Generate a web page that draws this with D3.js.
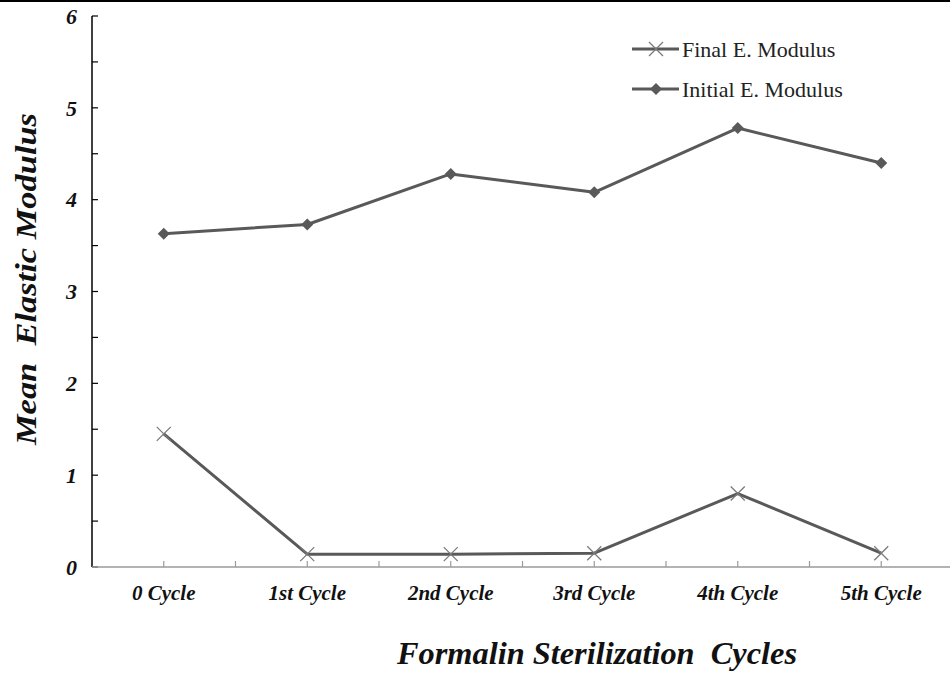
<!DOCTYPE html>
<html><head><meta charset="utf-8">
<script src="https://cdn.jsdelivr.net/npm/d3@7"></script>
<style>body{margin:0;background:#fff}svg{display:block}</style>
</head><body>
<svg id="c" width="950" height="681"></svg>
<script>
const categories = ["0 Cycle","1st Cycle","2nd Cycle","3rd Cycle","4th Cycle","5th Cycle"];
const finalModulus = [1.45, 0.14, 0.14, 0.15, 0.80, 0.15];
const initialModulus = [3.63, 3.73, 4.28, 4.08, 4.78, 4.40];
const yTicks = [0,1,2,3,4,5,6];
const seriesNames = ["Final E. Modulus","Initial E. Modulus"];

const svg = d3.select("#c");
const serif = "'Liberation Serif',serif";
const lineColor = "#595959";
const m = {l:92, r:953, t:16, b:567};

svg.append("line").attr("x1",0).attr("x2",950).attr("y1",1).attr("y2",1)
  .attr("stroke","#000").attr("stroke-width",2);

const x = d3.scaleBand().domain(categories).range([m.l, m.r]).padding(0);
const y = d3.scaleLinear().domain([0,6]).range([m.b, m.t]);
const cx = d => x(d) + x.bandwidth()/2;

// y axis
const yMinor = d3.range(0, 6.01, 0.5);
const ya = svg.append("g");
ya.append("line").attr("x1",m.l).attr("x2",m.l).attr("y1",m.t).attr("y2",m.b).attr("stroke","#000").attr("stroke-width",1.5);
ya.selectAll("line.t").data(yMinor).enter().append("line")
  .attr("x1",m.l).attr("x2",m.l+6).attr("y1",d=>y(d)).attr("y2",d=>y(d))
  .attr("stroke","#000").attr("stroke-width",1.2);
ya.selectAll("text").data(yTicks).enter().append("text")
  .attr("x",77).attr("y",d=>y(d)).attr("dy","0.35em").attr("text-anchor","end")
  .attr("font-family",serif).attr("font-weight","bold").attr("font-style","italic")
  .attr("font-size",22).attr("fill","#111").text(d=>d);

// x axis
const xa = svg.append("g");
xa.append("line").attr("x1",m.l).attr("x2",950).attr("y1",m.b).attr("y2",m.b).attr("stroke","#9a9a9a").attr("stroke-width",1.5);
const tickPos = [];
categories.forEach(c => { tickPos.push(cx(c)); tickPos.push(x(c)+x.bandwidth()); });
xa.selectAll("line.t").data(tickPos).enter().append("line")
  .attr("x1",d=>d).attr("x2",d=>d).attr("y1",m.b).attr("y2",m.b-6)
  .attr("stroke","#9a9a9a").attr("stroke-width",1.2);
xa.selectAll("text").data(categories).enter().append("text")
  .attr("x",d=>cx(d)).attr("y",600).attr("text-anchor","middle")
  .attr("font-family",serif).attr("font-weight","bold").attr("font-style","italic")
  .attr("font-size",21).attr("fill","#111").text(d=>d);

// titles
svg.append("text").attr("x",597).attr("y",664).attr("text-anchor","middle")
  .attr("font-family",serif).attr("font-weight","bold").attr("font-style","italic")
  .attr("font-size",31).attr("fill","#111").attr("xml:space","preserve")
  .attr("textLength",400).attr("lengthAdjust","spacingAndGlyphs").text("Formalin Sterilization  Cycles");
svg.append("text").attr("transform","translate(36,279) rotate(-90)").attr("text-anchor","middle")
  .attr("font-family",serif).attr("font-weight","bold").attr("font-style","italic")
  .attr("font-size",30).attr("fill","#111").attr("xml:space","preserve")
  .attr("textLength",332).attr("lengthAdjust","spacingAndGlyphs").text("Mean  Elastic Modulus");

const line = d3.line().x((d,i)=>cx(categories[i])).y(d=>y(d));
function drawLine(vals){
  svg.append("path").datum(vals).attr("d",line).attr("fill","none")
    .attr("stroke",lineColor).attr("stroke-width",3).attr("stroke-linejoin","round");
}
function xMark(g, px, py){
  const s = 7;
  g.append("path").attr("d",`M${px-s},${py-s}L${px+s},${py+s}M${px-s},${py+s}L${px+s},${py-s}`)
    .attr("stroke","#7a7a7a").attr("stroke-width",1.3).attr("fill","none");
}
function diamond(g, px, py){
  const s = 6;
  g.append("path").attr("d",`M${px},${py-s}L${px+s},${py}L${px},${py+s}L${px-s},${py}Z`).attr("fill",lineColor);
}
drawLine(finalModulus);
drawLine(initialModulus);
finalModulus.forEach((v,i)=>xMark(svg, cx(categories[i]), y(v)));
initialModulus.forEach((v,i)=>diamond(svg, cx(categories[i]), y(v)));

// legend
const lg = svg.append("g");
[[49,0],[89,1]].forEach(([ly,k])=>{
  lg.append("line").attr("x1",632).attr("x2",679).attr("y1",ly).attr("y2",ly).attr("stroke",lineColor).attr("stroke-width",3);
  if(k===0) xMark(lg, 656, ly); else diamond(lg, 656, ly);
  lg.append("text").attr("x",682).attr("y",ly).attr("dy","0.35em")
    .attr("font-family",serif).attr("font-size",22).attr("fill","#222").text(seriesNames[k]);
});
</script>
</body></html>
